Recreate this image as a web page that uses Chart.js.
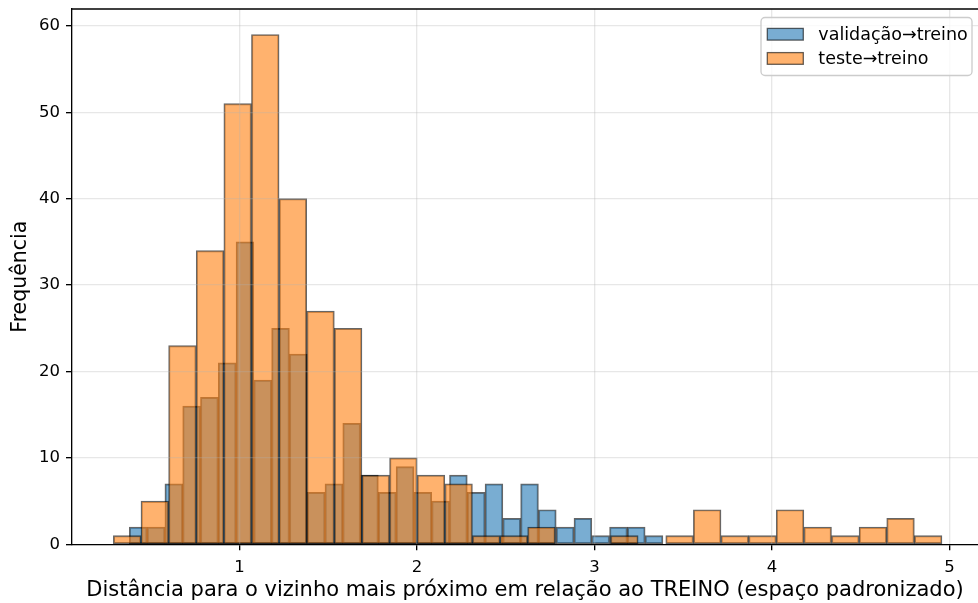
<!DOCTYPE html>
<html lang="pt-br">
<head>
    <meta charset="UTF-8">
    <title>Distância ao treino</title>
    <script src="https://cdn.jsdelivr.net/npm/chart.js"></script>
    <style>
        html, body { margin: 0; padding: 0; background: #fff; }
        canvas { display: block; }
    </style>
</head>
<body>
<canvas id="grafico" width="978" height="603"></canvas>
<script>
    // histogramas: inicio do primeiro bin, largura do bin e contagens
    const valInicio = 0.380;
    const valLargura = 0.1002;
    const valContagens = [2, 2, 7, 16, 17, 21, 35, 19, 25, 22, 6, 7, 14, 8, 6, 9, 6, 5, 8, 6, 7, 3, 7, 4, 2, 3, 1, 2, 2, 1];

    const testeInicio = 0.290;
    const testeLargura = 0.1556;
    const testeContagens = [1, 5, 23, 34, 51, 59, 40, 27, 25, 8, 10, 8, 7, 1, 1, 2, 0, 0, 1, 0, 1, 4, 1, 1, 4, 2, 1, 2, 3, 1];

    const ticksX = [1, 2, 3, 4, 5];
    const ticksY = [0, 10, 20, 30, 40, 50, 60];
    const rotulos = ['validação→treino', 'teste→treino'];

    const fonte = "'DejaVu Sans', sans-serif";
    const borda = 'rgba(0, 0, 0, 0.6)';

    function bins(inicio, largura, contagens) {
        return contagens.map((c, i) => ({ x: inicio + (i + 0.5) * largura, y: c }));
    }

    // linha de cima e legenda dentro da area do grafico
    const molduraLegenda = {
        id: 'molduraLegenda',
        afterDraw(chart) {
            const ctx = chart.ctx;
            const area = chart.chartArea;
            ctx.save();
            ctx.strokeStyle = '#000';
            ctx.lineWidth = 1.33;
            ctx.beginPath();
            ctx.moveTo(area.left, area.top);
            ctx.lineTo(area.right, area.top);
            ctx.stroke();

            const x = 761, y = 17.5, w = 211, h = 58, r = 4;
            ctx.beginPath();
            ctx.roundRect(x, y, w, h, r);
            ctx.fillStyle = 'rgba(255, 255, 255, 0.8)';
            ctx.fill();
            ctx.strokeStyle = '#cccccc';
            ctx.lineWidth = 1.33;
            ctx.stroke();

            ctx.font = '17.5px ' + fonte;
            ctx.textBaseline = 'middle';
            ctx.textAlign = 'left';
            chart.data.datasets.forEach((ds, i) => {
                const cy = 34.2 + i * 24.2;
                ctx.fillStyle = '#fff';
                ctx.fillRect(767.3, cy - 5.8, 36, 11.7);
                ctx.fillStyle = ds.backgroundColor;
                ctx.fillRect(767.3, cy - 5.8, 36, 11.7);
                ctx.strokeStyle = ds.borderColor;
                ctx.lineWidth = 1.3;
                ctx.strokeRect(767.3, cy - 5.8, 36, 11.7);
                ctx.fillStyle = '#000';
                ctx.fillText(ds.label, 818.3, cy + 1);
            });
            ctx.restore();
        }
    };

    const config = {
        type: 'bar',
        data: {
            datasets: [{
                label: rotulos[0],
                data: bins(valInicio, valLargura, valContagens),
                backgroundColor: 'rgba(31, 119, 180, 0.6)',
                borderColor: borda,
                borderWidth: 1.3,
                borderSkipped: false,
                grouped: false,
                order: 2
            }, {
                label: rotulos[1],
                data: bins(testeInicio, testeLargura, testeContagens),
                backgroundColor: 'rgba(255, 127, 14, 0.6)',
                borderColor: borda,
                borderWidth: 1.3,
                borderSkipped: false,
                grouped: false,
                order: 1
            }]
        },
        options: {
            responsive: false,
            animation: false,
            devicePixelRatio: 1,
            categoryPercentage: 1,
            barPercentage: 1,
            layout: { padding: { top: 9, right: 0, bottom: 0, left: 0 } },
            plugins: {
                legend: { display: false },
                tooltip: { enabled: false }
            },
            scales: {
                x: {
                    type: 'linear',
                    min: 0.057,
                    max: 5.161,
                    offset: false,
                    afterBuildTicks: (s) => { s.ticks = ticksX.map(v => ({ value: v })); },
                    afterFit: (s) => { s.height = 58.7; s.paddingLeft = 0; s.paddingRight = 0; },
                    grid: {
                        offset: false,
                        color: 'rgba(176, 176, 176, 0.3)',
                        lineWidth: 1.33,
                        tickColor: '#000',
                        tickWidth: 1.33,
                        tickLength: 6,
                        z: 1
                    },
                    border: { display: true, color: '#000', width: 1.33, z: 2 },
                    ticks: {
                        color: '#000',
                        padding: 8,
                        maxRotation: 0,
                        font: { family: fonte, size: 16.5 }
                    },
                    title: {
                        display: true,
                        text: 'Distância para o vizinho mais próximo em relação ao TREINO (espaço padronizado)',
                        color: '#000',
                        font: { family: fonte, size: 21 },
                        padding: { top: 0, bottom: 0 }
                    }
                },
                y: {
                    min: 0,
                    max: 61.95,
                    afterBuildTicks: (s) => { s.ticks = ticksY.map(v => ({ value: v })); },
                    afterFit: (s) => { s.width = 72; s.paddingTop = 0; s.paddingBottom = 0; },
                    grid: {
                        color: 'rgba(176, 176, 176, 0.3)',
                        lineWidth: 1.33,
                        tickColor: '#000',
                        tickWidth: 1.33,
                        tickLength: 6,
                        z: 1
                    },
                    border: { display: true, color: '#000', width: 1.33, z: 2 },
                    ticks: {
                        color: '#000',
                        padding: 6,
                        font: { family: fonte, size: 16.5 }
                    },
                    title: {
                        display: true,
                        text: 'Frequência',
                        color: '#000',
                        font: { family: fonte, size: 20.5 },
                        padding: { top: 8, bottom: 0 }
                    }
                }
            }
        },
        plugins: [molduraLegenda]
    };

    const grafico = new Chart(document.getElementById('grafico'), config);

    // largura de cada barra = largura do bin convertida pela escala x
    const eixoX = grafico.scales.x;
    grafico.data.datasets[0].barThickness = eixoX.getPixelForValue(valLargura) - eixoX.getPixelForValue(0);
    grafico.data.datasets[1].barThickness = eixoX.getPixelForValue(testeLargura) - eixoX.getPixelForValue(0);
    grafico.update();
</script>
</body>
</html>
